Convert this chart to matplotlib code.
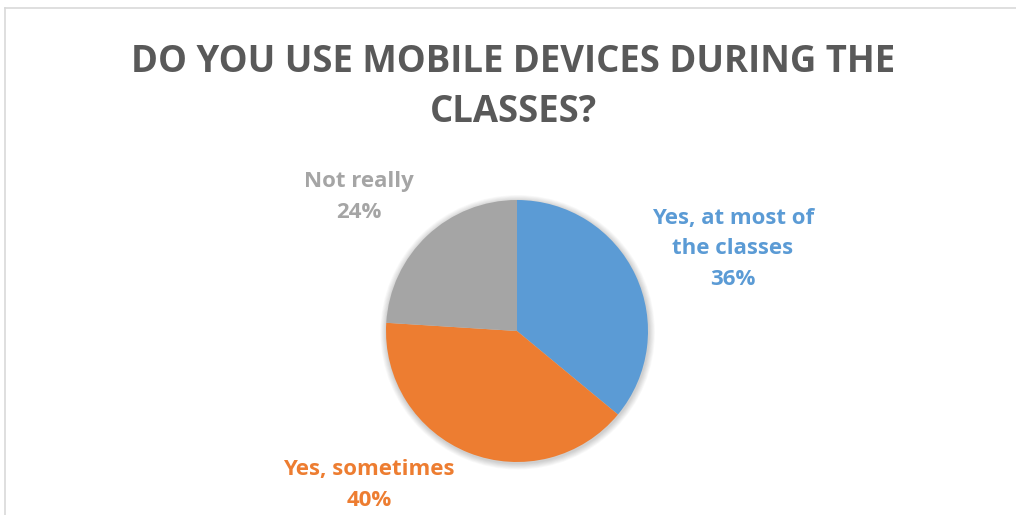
import matplotlib.pyplot as plt
from matplotlib.patches import Circle

W, H = 1016, 515

title = "DO YOU USE MOBILE DEVICES DURING THE\nCLASSES?"
labels = ["Yes, at most of\nthe classes", "Yes, sometimes", "Not really"]
shares = [36, 40, 24]
colors = ["#5B9BD5", "#ED7D31", "#A5A5A5"]

fig = plt.figure(figsize=(W / 100, H / 100), dpi=100)

# chart border (only top and left edges visible)
fig.add_artist(plt.Line2D([5 / W, 5 / W], [0, 1 - 8 / H], color="#D9D9D9", lw=1.2))
fig.add_artist(plt.Line2D([5 / W, 1], [1 - 8 / H, 1 - 8 / H], color="#D9D9D9", lw=1.2))

fig.text(513 / W, 1 - 87 / H, title, ha="center", va="center", fontsize=26.3,
         fontweight="bold", family="Open Sans", color="#595959", linespacing=1.4)

cx, cy, r = 517, 331, 131
pad = 20
ax = fig.add_axes([(cx - r - pad) / W, 1 - (cy + r + pad) / H, (2 * r + 2 * pad) / W, (2 * r + 2 * pad) / H])

# soft shadow around the pie
for i in range(8):
    ax.add_patch(Circle((0.005, -0.01), 1 + 0.006 * (i + 1), color="black", alpha=0.022, lw=0, zorder=0))

ax.pie(shares, colors=colors, startangle=90, counterclock=False, radius=1,
       wedgeprops=dict(linewidth=0, zorder=1))
lim = (r + pad) / r
ax.set_xlim(-lim, lim)
ax.set_ylim(-lim, lim)
ax.set_aspect("equal")
ax.axis("off")

label_pos = [(733, 249), (369, 485), (359, 197)]
for lab, s, c, (x, y) in zip(labels, shares, colors, label_pos):
    fig.text(x / W, 1 - y / H, f"{lab}\n{s}%", ha="center", va="center", fontsize=16,
             fontweight="bold", family="Open Sans", color=c, linespacing=1.6)

fig.savefig("out.png", dpi=100, facecolor="white")
